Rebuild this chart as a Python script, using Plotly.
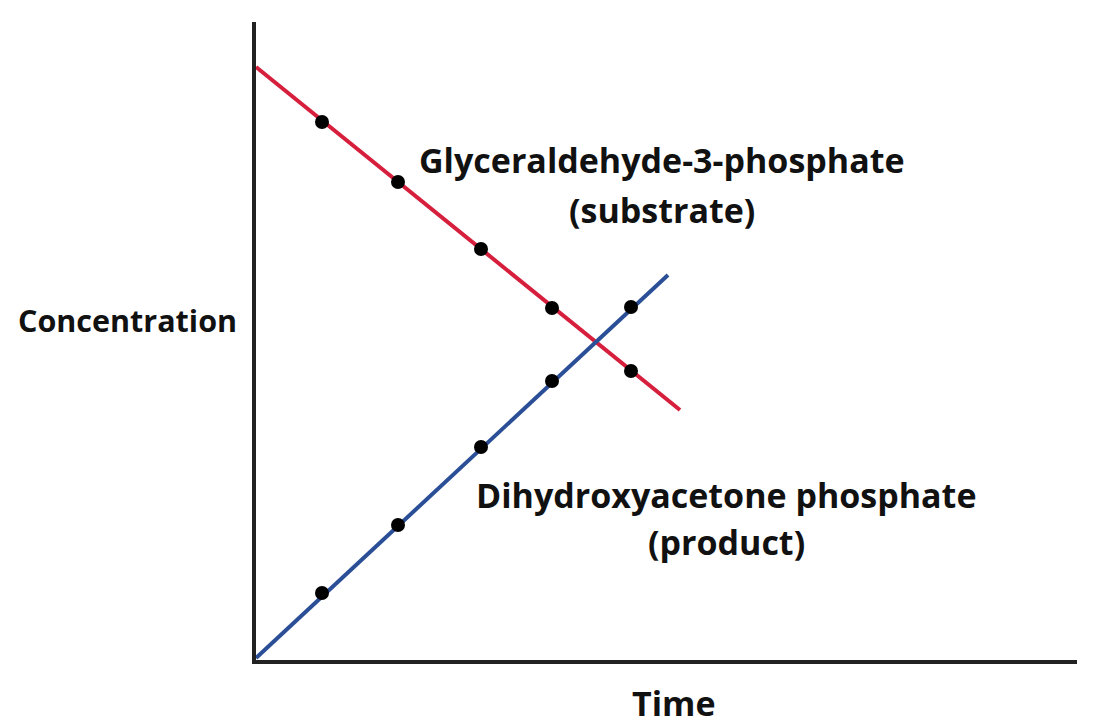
import plotly.graph_objects as go

# Measured time points and concentrations (arbitrary units)
time_points = [0.66, 1.42, 2.25, 2.96, 3.75]
substrate = [5.38, 4.78, 4.11, 3.52, 2.89]
product = [0.67, 1.35, 2.13, 2.79, 3.53]

# Trend line endpoints
substrate_line_t = [0.0, 4.24]
substrate_line_c = [5.93, 2.50]
product_line_t = [0.0, 4.12]
product_line_c = [0.02, 3.85]

RED = "#d61f3c"
BLUE = "#2b4f97"
FONT = "Open Sans"

fig = go.Figure()
fig.add_trace(go.Scatter(x=substrate_line_t, y=substrate_line_c, mode="lines",
                         line=dict(color=RED, width=4), showlegend=False, hoverinfo="skip"))
fig.add_trace(go.Scatter(x=product_line_t, y=product_line_c, mode="lines",
                         line=dict(color=BLUE, width=4), showlegend=False, hoverinfo="skip"))
fig.add_trace(go.Scatter(x=time_points, y=substrate, mode="markers",
                         marker=dict(color="black", size=14), showlegend=False, name="Substrate"))
fig.add_trace(go.Scatter(x=time_points, y=product, mode="markers",
                         marker=dict(color="black", size=14), showlegend=False, name="Product"))

tf = dict(family=FONT, size=34, color="#111")
annotations = [
    dict(x=4.06, y=5.0, text="<b>Glyceraldehyde-3-phosphate</b>"),
    dict(x=4.06, y=4.5, text="<b>(substrate)</b>"),
    dict(x=4.70, y=1.65, text="<b>Dihydroxyacetone phosphate</b>"),
    dict(x=4.70, y=1.18, text="<b>(product)</b>"),
]
for a in annotations:
    a.update(xref="x", yref="y", showarrow=False, font=tf, xanchor="center", yanchor="middle")
annotations.append(dict(x=4.18 / 8.21, y=-0.43 / 6.38, xref="paper", yref="paper", text="<b>Time</b>",
                        showarrow=False, font=tf, xanchor="center", yanchor="middle"))
annotations.append(dict(x=-0.157, y=3.40 / 6.38, xref="paper", yref="paper", text="<b>Concentration</b>",
                        showarrow=False, font=dict(family=FONT, size=30.5, color="#111"),
                        xanchor="center", yanchor="middle"))

fig.update_layout(
    width=1100, height=724,
    margin=dict(l=248, r=31, t=14, b=72),
    plot_bgcolor="white", paper_bgcolor="white",
    annotations=annotations,
)
fig.update_xaxes(range=[0, 8.21], showline=True, linecolor="#222", linewidth=3.5,
                 showgrid=False, zeroline=False, showticklabels=False, ticks="")
fig.update_yaxes(range=[0, 6.38], showline=True, linecolor="#222", linewidth=3.5,
                 showgrid=False, zeroline=False, showticklabels=False, ticks="")

fig.write_html("out.html")
